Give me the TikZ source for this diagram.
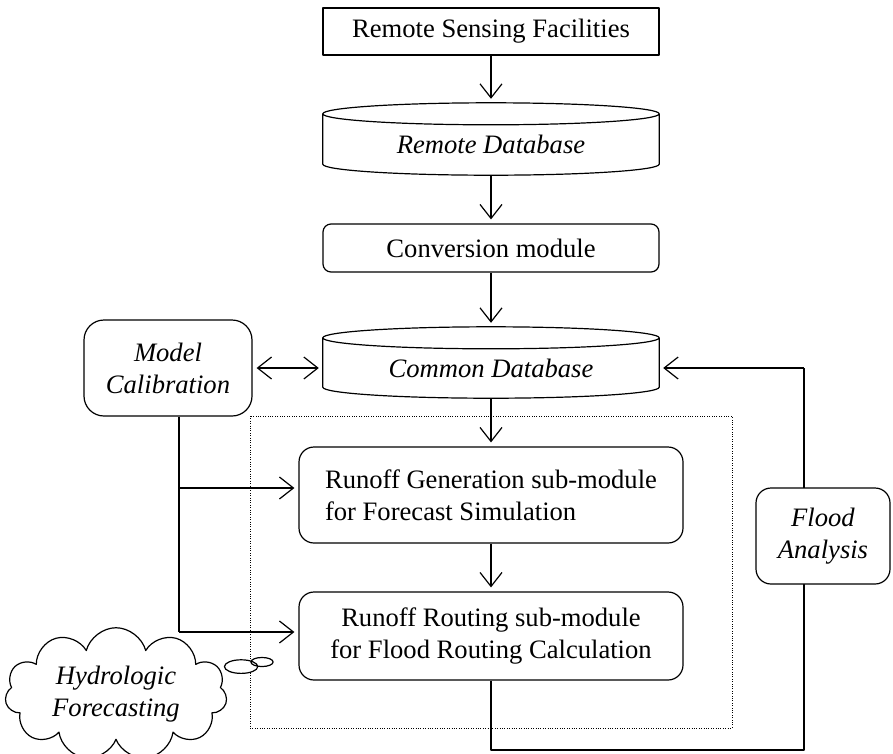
\documentclass[tikz,border=0pt]{standalone}
\usepackage{fontspec}
\setmainfont{Liberation Serif}
\usetikzlibrary{arrows.meta,calc,shapes.callouts,shapes.symbols}
\newcommand\drawcyl[2]{%
  \draw[ln] let \p1=(#1.north west), \p2=(#1.south east), \n1={(\x2-\x1)/2} in
    (\x1,\y1) arc[start angle=180,end angle=-180,x radius=\n1,y radius=#2]
    -- (\x1,\y2+#2) arc[start angle=180,end angle=360,x radius=\n1,y radius=#2]
    -- (\x2,\y1);}
\begin{document}
\begin{tikzpicture}[x=1pt,y=1pt,
  font=\fontsize{26.6}{32}\selectfont,
  ln/.style={line width=1.2pt,line join=round},
  arr/.style={ln,-{Straight Barb[length=14pt,width=22pt,line width=1.2pt]},shorten >=4pt},
  darr/.style={ln,{Straight Barb[length=14pt,width=22pt,line width=1.2pt]}-{Straight Barb[length=14pt,width=22pt,line width=1.2pt]},shorten >=4pt,shorten <=4pt},
  plainbox/.style={ln,draw,inner sep=0pt,align=center},
  rbox/.style={plainbox,rounded corners=#1},
  cylbox/.style={inner sep=0pt,align=center,font=\fontsize{26.6}{32}\selectfont\itshape},
  frame/.style={line width=0.8pt,dash pattern=on 0.9pt off 1.5pt}]
\useasboundingbox (0,0) rectangle (893,-753);
% nodes
\node[plainbox,minimum width=336pt,minimum height=47pt] (rsf) at (491,-31.5) {Remote Sensing Facilities};
\node[cylbox,minimum width=336pt,minimum height=61pt] (rdb) at (491,-144.5) {Remote Database};
\node[rbox=8pt,minimum width=336pt,minimum height=48pt] (conv) at (491,-248) {Conversion module};
\node[cylbox,minimum width=336pt,minimum height=60pt] (cdb) at (491,-368) {Common Database};
\node[rbox=20pt,minimum width=168pt,minimum height=96pt,font=\fontsize{26.6}{32}\selectfont\itshape] (mc) at (168,-368) {Model\\Calibration};
\node[rbox=15pt,minimum width=384pt,minimum height=96pt,align=left] (gen) at (491,-495) {Runoff Generation sub-module\\for Forecast Simulation};
\node[rbox=15pt,minimum width=384pt,minimum height=88pt] (route) at (491,-636) {Runoff Routing sub-module\\for Flood Routing Calculation};
\drawcyl{rdb}{11pt}
\drawcyl{cdb}{11pt}
% dotted frame
\draw[frame] (250,-416) rectangle (732,-728);
% coordinates
\coordinate (j1) at (179,-488);
\coordinate (j2) at (179,-632);
\coordinate (fl) at (804,-750);
\coordinate (fb) at (804,-368);
% connectors
\draw[arr,shorten >=15pt] (rsf.south) -- (rdb.north);
\draw[arr] (rdb.south) -- (conv.north);
\draw[arr,shorten >=15pt] (conv.south) -- (cdb.north);
\draw[arr] (cdb.south) -- (gen.north);
\draw[arr] (gen.south) -- (route.north);
\draw[darr] (mc.east) -- (cdb.west);
\draw[ln] (mc.south -| j1) -- (j2);
\draw[arr] (j1) -- (j1 -| gen.west);
\draw[arr] (j2) -- (j2 -| route.west);
\draw[ln] (route.south) |- (fl) -- (fb);
\draw[arr] (fb) -- (cdb.east);
% flood analysis on top of the line
\node[rbox=15pt,fill=white,minimum width=134pt,minimum height=96pt,font=\fontsize{26.6}{32}\selectfont\itshape] (fa) at (823,-536) {Flood\\Analysis};
% cloud
\node[cloud callout,draw,ln,fill=white,cloud puffs=11,aspect=1.85,minimum width=222pt,minimum height=120pt,inner sep=0pt,align=center,
  callout absolute pointer={(262,-662)},callout pointer segments=2,
  font=\fontsize{26.6}{32}\selectfont\itshape] (hf) at (116,-694) {Hydrologic\\Forecasting};
\end{tikzpicture}
\end{document}
